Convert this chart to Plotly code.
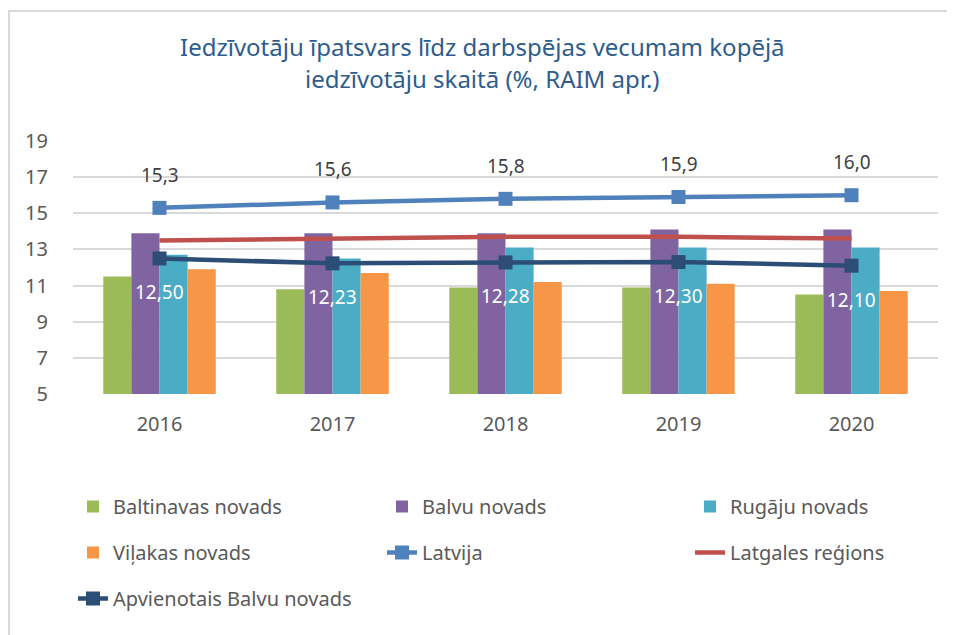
import plotly.graph_objects as go

years = ["2016", "2017", "2018", "2019", "2020"]
baltinavas = [11.5, 10.8, 10.9, 10.9, 10.5]
balvu = [13.9, 13.9, 13.9, 14.1, 14.1]
rugaju = [12.7, 12.5, 13.1, 13.1, 13.1]
vilakas = [11.9, 11.7, 11.2, 11.1, 10.7]
latvija = [15.3, 15.6, 15.8, 15.9, 16.0]
latgale = [13.5, 13.6, 13.7, 13.7, 13.6]
apvienotais = [12.50, 12.23, 12.28, 12.30, 12.10]
y_ticks = [5, 7, 9, 11, 13, 15, 17, 19]
title_lines = ["Iedzīvotāju īpatsvars līdz darbspējas vecumam kopējā",
               "iedzīvotāju skaitā (%, RAIM apr.)"]

FONT = "Noto Sans, Liberation Sans, Arial, sans-serif"
TXT = "#595959"

# figure sits in the page with the 8px body margin
W, H = 947, 627
L, R, T, B = 65, 17, 133, 241
pw, ph = W - L - R, H - T - B

def px_x(px):
    return (px - L) / pw

def px_y(py):
    return (H - B - py) / ph

fig = go.Figure()

bars = [
    ("Baltinavas novads", baltinavas, "#9BBB59", "legend"),
    ("Balvu novads", balvu, "#8064A2", "legend2"),
    ("Rugāju novads", rugaju, "#4BACC6", "legend3"),
    ("Viļakas novads", vilakas, "#F79646", "legend"),
]
for name, vals, col, lg in bars:
    fig.add_trace(go.Bar(x=years, y=vals, name=name, marker=dict(color=col, line=dict(width=0)),
                         legend=lg, legendgroup=name))

fig.add_trace(go.Scatter(x=years, y=latvija, name="Latvija", mode="lines+markers",
                         line=dict(color="#4F81BD", width=4.5),
                         marker=dict(symbol="square", size=14, color="#4F81BD"),
                         legend="legend2", legendgroup="Latvija"))
fig.add_trace(go.Scatter(x=years, y=latgale, name="Latgales reģions", mode="lines",
                         line=dict(color="#C0504D", width=4.5),
                         legend="legend3", legendgroup="Latgales"))
fig.add_trace(go.Scatter(x=years, y=apvienotais, name="Apvienotais Balvu novads", mode="lines+markers",
                         line=dict(color="#2C4D75", width=4.5),
                         marker=dict(symbol="square", size=14, color="#2C4D75"),
                         legend="legend", legendgroup="Apv"))

def fmt(v, d):
    return f"{v:.{d}f}".replace(".", ",")

annotations = []
for i, v in enumerate(latvija):
    annotations.append(dict(x=i, y=v, xref="x", yref="y", text=fmt(v, 1), showarrow=False, yshift=33,
                            font=dict(family=FONT, size=19, color="#404040")))
for i, v in enumerate(apvienotais):
    annotations.append(dict(x=i, y=v, xref="x", yref="y", text=fmt(v, 2), showarrow=False, yshift=-34,
                            font=dict(family=FONT, size=19, color="white")))
for line, ypx in zip(title_lines, [39, 70]):
    annotations.append(dict(x=px_x(W / 2 + 1), y=px_y(ypx), xref="paper", yref="paper", text=line,
                            showarrow=False, xanchor="center", yanchor="middle",
                            font=dict(family=FONT, size=24, color="#2E5C8F")))

shapes = [dict(type="rect", xref="paper", yref="paper",
               x0=px_x(1), x1=px_x(960), y0=px_y(640), y1=px_y(3),
               line=dict(color="#D9D9D9", width=2), fillcolor="rgba(0,0,0,0)", layer="below")]

leg_common = dict(orientation="v", font=dict(family=FONT, size=20, color=TXT),
                  tracegroupgap=17, bgcolor="rgba(0,0,0,0)", xanchor="left", yanchor="top",
                  itemclick=False)

fig.update_layout(
    width=W, height=H,
    margin=dict(l=L, r=R, t=T, b=B, autoexpand=False),
    paper_bgcolor="white", plot_bgcolor="white",
    barmode="group", bargap=0.35, bargroupgap=0,
    xaxis=dict(type="category", range=[-0.5, 4.5], showgrid=False, showline=False, ticks="",
               tickfont=dict(family=FONT, size=20, color=TXT), ticklabelstandoff=16),
    yaxis=dict(range=[5, 19], tickvals=y_ticks, showgrid=True, gridcolor="#D9D9D9", gridwidth=1.5,
               zeroline=False, showline=False, ticks="",
               tickfont=dict(family=FONT, size=20, color=TXT), ticklabelstandoff=24),
    legend=dict(x=px_x(65), y=px_y(479), **leg_common),
    legend2=dict(x=px_x(374), y=px_y(479), **leg_common),
    legend3=dict(x=px_x(682), y=px_y(479), **leg_common),
    annotations=annotations,
    shapes=shapes,
    showlegend=True,
)

fig.write_html("out.html")
